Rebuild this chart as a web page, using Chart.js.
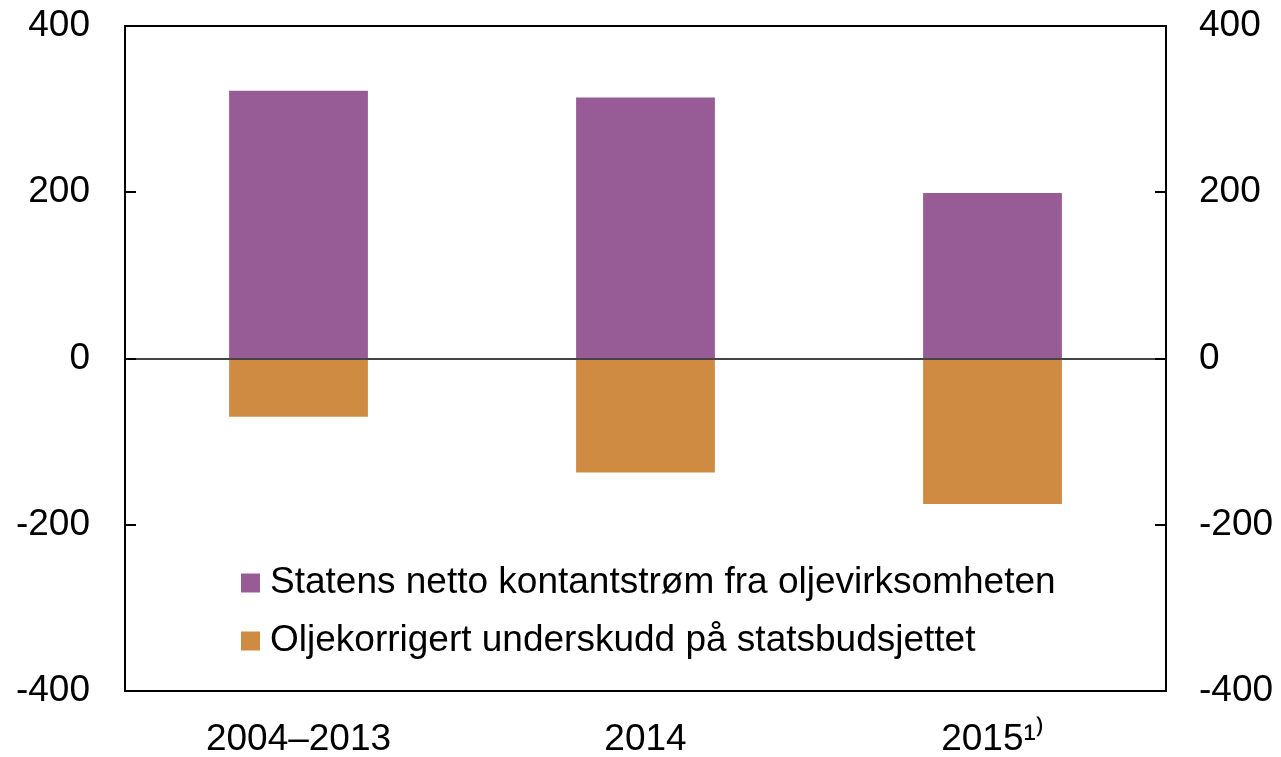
<!DOCTYPE html>
<html>
<head>
<meta charset="utf-8">
<script src="https://cdn.jsdelivr.net/npm/chart.js@4.4.1/dist/chart.umd.min.js"></script>
<style>
  html, body { margin: 0; padding: 0; background: #fff; }
  #wrap { width: 1281px; height: 757px; }
</style>
</head>
<body>
<div id="wrap"><canvas id="chart"></canvas></div>
<script>
// Data
const categories = ['2004–2013', '2014', '2015¹⁾'];
const netCashFlow = [322, 314, 199];
const deficit = [-70, -137, -175];
const yTicks = [-400, -200, 0, 200, 400];

const seriesNames = [
    'Statens netto kontantstrøm fra oljevirksomheten',
    'Oljekorrigert underskudd på statsbudsjettet'
];
const purple = '#975b96';
const orange = '#cf8b42';
const fontFamily = '"Liberation Sans", Arial, sans-serif';

// Frame, inside ticks, zero line and legend
const framePlugin = {
    id: 'frame',
    afterDatasetsDraw(chart) {
        const ctx = chart.ctx;
        const a = chart.chartArea;
        const y = chart.scales.y;
        ctx.save();
        // zero line
        ctx.strokeStyle = '#444';
        ctx.lineWidth = 2;
        const y0 = Math.round(y.getPixelForValue(0));
        ctx.beginPath();
        ctx.moveTo(a.left, y0);
        ctx.lineTo(a.right, y0);
        ctx.stroke();
        // box
        ctx.strokeStyle = '#000';
        ctx.lineWidth = 2;
        ctx.strokeRect(a.left, a.top, a.right - a.left, a.bottom - a.top);
        // inside tick marks on both sides
        yTicks.forEach(v => {
            const py = Math.round(y.getPixelForValue(v));
            ctx.beginPath();
            ctx.moveTo(a.left, py);
            ctx.lineTo(a.left + 11, py);
            ctx.moveTo(a.right - 11, py);
            ctx.lineTo(a.right, py);
            ctx.stroke();
        });
        // legend
        const colors = [purple, orange];
        ctx.font = '37px ' + fontFamily;
        ctx.textBaseline = 'middle';
        ctx.textAlign = 'left';
        seriesNames.forEach((name, i) => {
            const cy = 583 + i * 58;
            ctx.fillStyle = colors[i];
            ctx.fillRect(241, cy - 9.5, 19, 19);
            ctx.fillStyle = '#000';
            ctx.fillText(name, 270, cy);
        });
        ctx.restore();
    }
};

const tickFont = { family: fontFamily, size: 37 };

// fixed axis sizes so the plot box lands where it is in the reference
function fixY(width) {
    return s => { s.width = width; s.paddingTop = 0; s.paddingBottom = 0; };
}

new Chart(document.getElementById('chart'), {
    type: 'bar',
    data: {
        labels: categories,
        datasets: [
            { label: seriesNames[0], data: netCashFlow, backgroundColor: purple },
            { label: seriesNames[1], data: deficit, backgroundColor: orange }
        ]
    },
    options: {
        responsive: true,
        maintainAspectRatio: false,
        animation: false,
        layout: { padding: { top: 26, left: 0, right: 0, bottom: 0 } },
        datasets: { bar: { barPercentage: 0.4, categoryPercentage: 1 } },
        plugins: { legend: { display: false }, tooltip: { enabled: false } },
        scales: {
            x: {
                stacked: true,
                grid: { display: false, drawTicks: false },
                border: { display: false },
                ticks: { color: '#000', font: tickFont, padding: 27 },
                afterFit: s => { s.height = 66; s.paddingLeft = 0; s.paddingRight = 0; }
            },
            y: {
                stacked: true,
                min: -400, max: 400,
                grid: { display: false, drawTicks: false },
                border: { display: false },
                ticks: { color: '#000', font: tickFont, padding: 35, stepSize: 200 },
                afterFit: fixY(125)
            },
            y2: {
                position: 'right',
                min: -400, max: 400,
                grid: { display: false, drawTicks: false },
                border: { display: false },
                ticks: { color: '#000', font: tickFont, padding: 33, stepSize: 200 },
                afterFit: fixY(115)
            }
        }
    },
    plugins: [framePlugin]
});
</script>
</body>
</html>
